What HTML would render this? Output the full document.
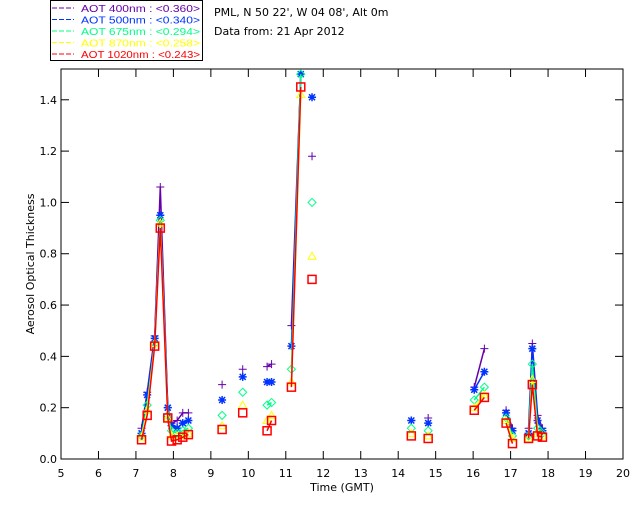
<!DOCTYPE html>
<html><head><meta charset="utf-8"><style>
body{margin:0;background:#fff;}
svg text{font-family:"DejaVu Sans","Liberation Sans",sans-serif;font-size:11px;}
svg #legend text{font-family:"Liberation Sans",sans-serif;font-size:10px;}
</style></head><body>
<svg id="chart" width="640" height="512" viewBox="0 0 640 512" xmlns="http://www.w3.org/2000/svg">
<rect x="0" y="0" width="640" height="512" fill="#fff"/>
<g id="legend">
<rect x="50.5" y="0.5" width="152" height="60" fill="#fff" stroke="#000"/>
</g>
<text x="214" y="16">PML, N 50 22', W 04 08', Alt 0m</text>
<text x="214" y="35">Data from: 21 Apr 2012</text>
<g id="axes"></g>
<g id="marks"></g>
<text x="342" y="491" text-anchor="middle">Time (GMT)</text>
<text transform="translate(34,264) rotate(-90)" text-anchor="middle">Aerosol Optical Thickness</text>
</svg>
<script>
const times = [7.15,7.3,7.5,7.65,7.85,7.95,8.1,8.25,8.4, 9.3, 9.85, 10.5,10.62, 11.15,11.4, 11.7, 14.35, 14.8, 16.03,16.3, 16.88,17.05, 17.48,17.58,17.72,17.85];
const groups = [[0,8],[9,9],[10,10],[11,12],[13,14],[15,15],[16,16],[17,17],[18,19],[20,21],[22,25]];
const aot400 = [0.12,0.26,0.48,1.06,0.20,0.14,0.15,0.18,0.18, 0.29, 0.35, 0.36,0.37, 0.52,1.50, 1.18, 0.15, 0.16, 0.28,0.43, 0.19,0.12, 0.12,0.45,0.17,0.12];
const aot500 = [0.10,0.25,0.47,0.95,0.20,0.13,0.12,0.14,0.15, 0.23, 0.32, 0.30,0.30, 0.44,1.50, 1.41, 0.15, 0.14, 0.27,0.34, 0.18,0.11, 0.10,0.43,0.15,0.11];
const aot675 = [0.09,0.21,0.45,0.93,0.17,0.11,0.10,0.11,0.12, 0.17, 0.26, 0.21,0.22, 0.35,1.50, 1.00, 0.12, 0.11, 0.23,0.28, 0.16,0.09, 0.09,0.37,0.12,0.10];
const aot870 = [0.085,0.19,0.45,0.92,0.16,0.09,0.09,0.09,0.10, 0.13, 0.21, 0.15,0.17, 0.30,1.42, 0.79, 0.10, 0.09, 0.20,0.25, 0.15,0.08, 0.08,0.31,0.10,0.09];
const aot1020 = [0.075,0.17,0.44,0.90,0.16,0.07,0.075,0.085,0.095, 0.115, 0.18, 0.11,0.15, 0.28,1.45, 0.70, 0.09, 0.08, 0.19,0.24, 0.14,0.06, 0.08,0.29,0.09,0.085];
const xTicks = [5,6,7,8,9,10,11,12,13,14,15,16,17,18,19,20];
const yTicks = [0,0.2,0.4,0.6,0.8,1.0,1.2,1.4];
const seriesNames = ["AOT  400nm : <0.360>","AOT  500nm : <0.340>","AOT  675nm : <0.294>","AOT  870nm : <0.258>","AOT 1020nm : <0.243>"];

const NS="http://www.w3.org/2000/svg";
const L=61,R=623,T=69,B=459;
const xs=v=>L+(v-5)*(R-L)/15;
const ys=v=>B-v*(B-T)/1.52;
function mk(tag,attrs,parent){const e=document.createElementNS(NS,tag);for(const k in attrs)e.setAttribute(k,attrs[k]);parent.appendChild(e);return e;}
const axes=document.getElementById('axes');
const frame=mk('rect',{x:L,y:T,width:R-L,height:B-T,fill:'none',stroke:'#000','stroke-width':1},axes);


xTicks.forEach(t=>{
  const x=xs(t);
  mk('line',{x1:x,y1:B,x2:x,y2:B-8,stroke:'#000'},axes);
  mk('line',{x1:x,y1:T,x2:x,y2:T+8,stroke:'#000'},axes);
  const tx=mk('text',{x:x,y:B+18,'text-anchor':'middle'},axes);tx.textContent=t;
  
  
});
yTicks.forEach(t=>{
  const y=ys(t);
  mk('line',{x1:L,y1:y,x2:L+8,y2:y,stroke:'#000'},axes);
  mk('line',{x1:R,y1:y,x2:R-8,y2:y,stroke:'#000'},axes);
  const tx=mk('text',{x:L-4,y:y+4,'text-anchor':'end'},axes);tx.textContent=t.toFixed(1);
  
  
});
const colors=['#6600aa','#0033ff','#00ff88','#ffff00','#ff0000'];
const series=[aot400,aot500,aot675,aot870,aot1020];
const shapes=['plus','star','diamond','tri','square'];
const marks=document.getElementById('marks');
series.forEach((vals,si)=>{
  const g=mk('g',{},marks);
  
  
  groups.forEach(([a,b])=>{
    if(b>a){
      let pts=[];for(let i=a;i<=b;i++)pts.push(xs(times[i])+','+ys(vals[i]));
      const pl=mk('polyline',{points:pts.join(' '),fill:'none',stroke:colors[si],'stroke-width':1.5},g);
      
      
    }
  });
  times.forEach((t,i)=>{
    const x=xs(t),y=ys(vals[i]),c=colors[si];let m;
    if(shapes[si]==='plus')m=mk('path',{d:`M${x-4},${y}H${x+4}M${x},${y-4}V${y+4}`,stroke:c,fill:'none'},g);
    else if(shapes[si]==='star')m=mk('path',{d:`M${x-4},${y}H${x+4}M${x},${y-4}V${y+4}M${x-3},${y-3}L${x+3},${y+3}M${x-3},${y+3}L${x+3},${y-3}`,stroke:c,fill:'none','stroke-width':1.5},g);
    else if(shapes[si]==='diamond')m=mk('path',{d:`M${x},${y-4}L${x+4},${y}L${x},${y+4}L${x-4},${y}Z`,stroke:c,fill:'none'},g);
    else if(shapes[si]==='tri')m=mk('path',{d:`M${x},${y-4}L${x+4},${y+3}L${x-4},${y+3}Z`,stroke:c,fill:'none'},g);
    else m=mk('rect',{x:x-4,y:y-4,width:8,height:8,stroke:c,fill:'none','stroke-width':1.5},g);
    
    
  });
});
const leg=document.getElementById('legend');
seriesNames.forEach((n,i)=>{
  const y=12+i*11.5;
  mk('line',{x1:52,y1:y-4,x2:74,y2:y-4,stroke:colors[i],'stroke-dasharray':'5,2'},leg);
  const tx=mk('text',{x:81,y:y,fill:colors[i],'xml:space':'preserve',textLength:119,lengthAdjust:'spacingAndGlyphs'},leg);
  tx.textContent=n;
  
  
});
</script>
</body></html>
